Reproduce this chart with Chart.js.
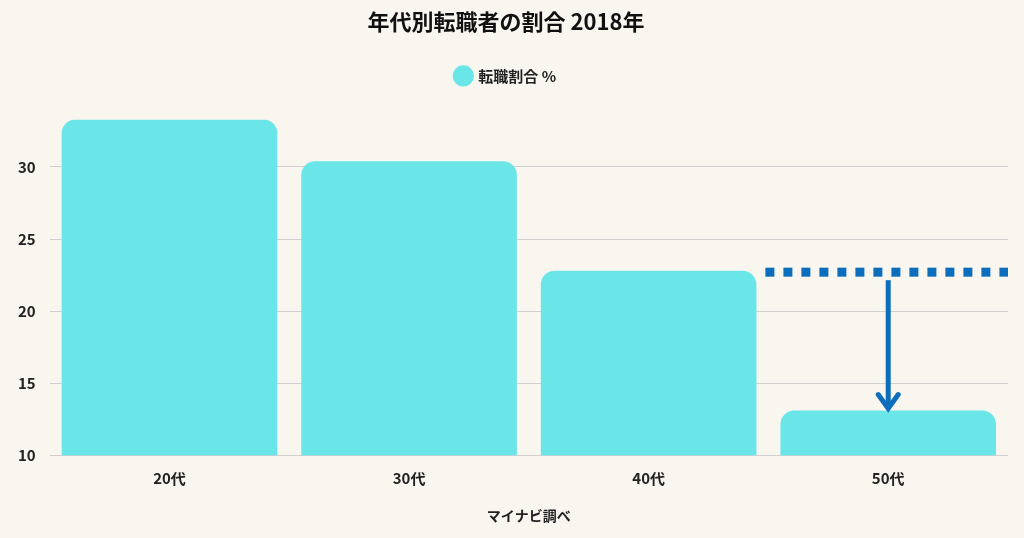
<!DOCTYPE html>
<html><head><meta charset="utf-8">
<script src="https://cdn.jsdelivr.net/npm/chart.js@4"></script>
<style>html,body{margin:0;background:#f9f6f0;}#w{width:1024px;height:538px;}</style>
</head><body><div id="w"><canvas id="c"></canvas></div>
<script>
const categories = ["20代","30代","40代","50代"];
const values = [33.3, 30.4, 22.8, 13.1];
const refLine = 22.7;
const yTicks = [10,15,20,25,30];
const FONT = "'Noto Sans CJK JP','Noto Sans',sans-serif";

const legendSpace = {
  id:'legendSpace',
  beforeInit(chart){
    const orig = chart.legend.fit;
    chart.legend.fit = function(){ orig.bind(chart.legend)(); this.height += 26; };
  }
};

const arrowPlugin = {
  id:'arrow',
  afterDatasetsDraw(chart){
    const {ctx, scales:{x,y}, chartArea} = chart;
    const meta = chart.getDatasetMeta(0).data[3];
    const yl = y.getPixelForValue(refLine);
    const x0 = meta.x - meta.width/2 - 15, x1 = chartArea.right;
    ctx.save();
    ctx.strokeStyle = '#0b6dbc'; ctx.fillStyle = '#0b6dbc';
    ctx.lineWidth = 9; ctx.setLineDash([9,9]);
    ctx.beginPath(); ctx.moveTo(x0, yl); ctx.lineTo(x1, yl); ctx.stroke();
    ctx.setLineDash([]); ctx.lineWidth = 5;
    const yt = y.getPixelForValue(values[3]) - 2;
    ctx.beginPath(); ctx.moveTo(meta.x, yl+8); ctx.lineTo(meta.x, yt-4); ctx.stroke();
    ctx.lineCap='round';
    ctx.beginPath(); ctx.moveTo(meta.x-10, yt-14); ctx.lineTo(meta.x, yt); ctx.lineTo(meta.x+10, yt-14); ctx.stroke();
    ctx.restore();
  }
};

new Chart(document.getElementById('c'), {
  type:'bar',
  data:{labels:categories, datasets:[{label:'転職割合 %', data:values, backgroundColor:'#6ae5e8', borderRadius:{topLeft:14,topRight:14}, borderSkipped:'bottom', barPercentage:0.9, categoryPercentage:1}]},
  options:{
    responsive:true, maintainAspectRatio:false, animation:false,
    layout:{padding:{left:4,right:16,top:0,bottom:10}},
    plugins:{
      title:{display:true, text:'年代別転職者の割合 2018年', color:'#111', font:{family:FONT,size:22,weight:'bold'}, padding:{top:8,bottom:24}},
      legend:{labels:{usePointStyle:true, pointStyle:'circle', boxWidth:15, boxHeight:15, color:'#222', font:{family:FONT,size:15,weight:'bold'}, padding:10}},
      tooltip:{enabled:false}
    },
    scales:{
      x:{grid:{display:false}, border:{display:false}, ticks:{color:'#222', font:{family:FONT,size:15,weight:'bold'}, padding:6},
         title:{display:true, text:'マイナビ調べ', color:'#222', font:{family:FONT,size:14,weight:'bold'}, padding:{top:14}}},
      y:{min:10, max:33.3, border:{display:false}, grid:{color:'#d0d0d0', drawTicks:false},
         afterBuildTicks(a){a.ticks = yTicks.map(v=>({value:v}));},
         ticks:{color:'#222', font:{family:FONT,size:15,weight:'bold'}, padding:14}}
    }
  },
  plugins:[legendSpace, arrowPlugin]
});
</script></body></html>
